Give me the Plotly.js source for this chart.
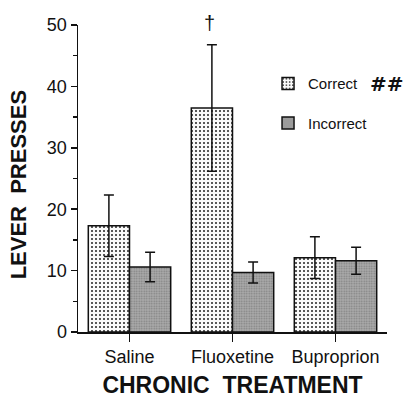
<!DOCTYPE html>
<html>
<head>
<meta charset="utf-8">
<script src="https://cdn.plot.ly/plotly-3.0.1.min.js"></script>
<style>html,body{margin:0;padding:0;background:#fff;}#chart{width:405px;height:398px;}</style>
</head>
<body>
<div id="chart"></div>
<script>
const categories = ["Saline", "Fluoxetine", "Buproprion"];
const correctValues = [17.3, 36.5, 12.1];
const correctErrors = [5.0, 10.3, 3.4];
const incorrectValues = [10.6, 9.7, 11.6];
const incorrectErrors = [2.4, 1.7, 2.2];
const yTickValues = [0, 10, 20, 30, 40, 50];

const font = "Liberation Sans, Arial, Helvetica, sans-serif";

const traces = [
  {
    type: "bar", name: "Correct", legendgroup: "c", x: categories, y: correctValues,
    error_y: {type: "data", array: correctErrors, visible: true, color: "#111", thickness: 1.5, width: 5},
    marker: {color: "#fafafa", line: {color: "#111", width: 1.5},
      pattern: {shape: ".", fgcolor: "#222", bgcolor: "#fafafa", size: 4, solidity: 0.2, fillmode: "replace"}}
  },
  {
    type: "bar", name: "Incorrect", legendgroup: "i", x: categories, y: incorrectValues,
    error_y: {type: "data", array: incorrectErrors, visible: true, color: "#111", thickness: 1.5, width: 5},
    marker: {color: "#a4a4a4", line: {color: "#111", width: 1.5},
      pattern: {shape: ".", fgcolor: "#808080", bgcolor: "#adadad", size: 2.5, solidity: 0.4, fillmode: "replace"}}
  }
];

const layout = {
  width: 405, height: 398,
  margin: {l: 78, r: 18, t: 25, b: 66},
  paper_bgcolor: "#fff", plot_bgcolor: "#fff",
  font: {family: font, color: "#111"},
  barmode: "group", bargap: 0.2, bargroupgap: 0,
  showlegend: true,
  legend: {x: 0.615, y: 0.862, xanchor: "left", yanchor: "top", bgcolor: "rgba(0,0,0,0)",
    font: {size: 15, family: font}, tracegroupgap: 17, traceorder: "grouped"},
  xaxis: {
    range: [-0.5, 2.5], showline: true, linecolor: "#111", linewidth: 1.5,
    ticks: "outside", ticklen: 8, tickwidth: 1.5, tickcolor: "#111",
    tickfont: {size: 18}, showgrid: false, zeroline: false,
    title: {text: "<b>CHRONIC  TREATMENT</b>", font: {size: 23}, standoff: 19}
  },
  yaxis: {
    range: [0, 50], tickvals: yTickValues, showline: true, linecolor: "#111", linewidth: 1.5,
    ticks: "outside", ticklen: 6, tickwidth: 1.5, tickcolor: "#111",
    minor: {dtick: 5, ticks: "outside", ticklen: 4, tickwidth: 1.5, tickcolor: "#111"},
    tickfont: {size: 18}, showgrid: false, zeroline: false,
    title: {text: "<b>LEVER  PRESSES</b>&nbsp;&nbsp;", font: {size: 22}, standoff: 14}
  },
  annotations: [
    {x: "Fluoxetine", y: 50, xref: "x", yref: "y", xshift: -23, yshift: 2, text: "†", showarrow: false, font: {size: 20}},
    {xref: "paper", yref: "paper", x: 1.0, y: 0.808, xanchor: "center", yanchor: "middle", text: "<b>##</b>", showarrow: false, font: {size: 20, family: "DejaVu Sans, sans-serif"}}
  ]
};

Plotly.newPlot("chart", traces, layout, {displayModeBar: false, staticPlot: true});
</script>
</body>
</html>
